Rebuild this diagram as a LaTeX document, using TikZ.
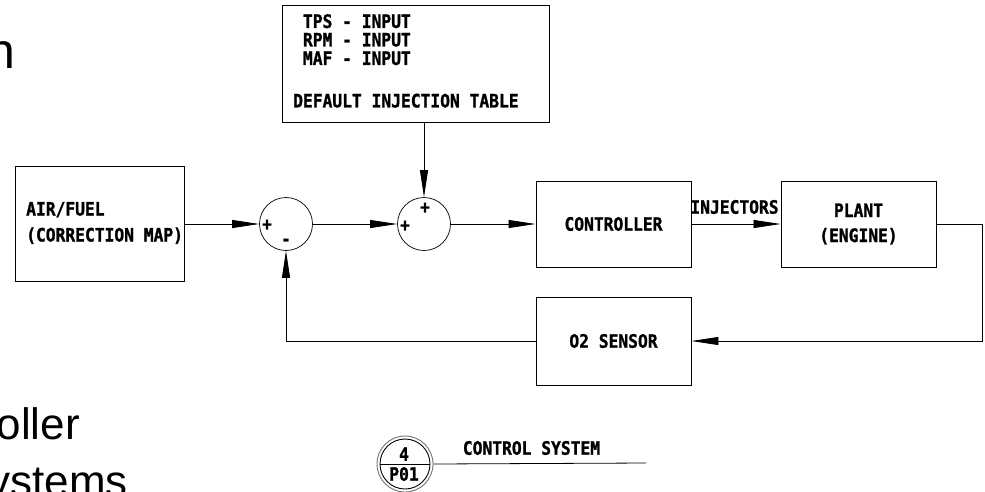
\documentclass[tikz,border=0pt]{standalone}
\usepackage{fontspec}
\setmainfont{Liberation Sans}
\newfontfamily\cadfont{DejaVu Sans Mono}[FakeStretch=0.88, BoldFeatures={FakeBold=1.2}]
\usetikzlibrary{arrows.meta}
\tikzset{
  blk/.style={draw, line width=0.9pt, inner sep=0pt},
  sumj/.style={circle, draw, line width=0.7pt, minimum size=53pt, inner sep=0pt},
  arr/.style={-{Triangle[length=27pt,width=8pt]}, line width=0.8pt},
  wire/.style={line width=0.8pt},
  lbl/.style={font=\cadfont\bfseries\fontsize{18.5}{18.5}\selectfont, inner sep=0pt},
  sgn/.style={font=\cadfont\bfseries\fontsize{18}{18}\selectfont, inner sep=0pt},
  slide/.style={font=\fontsize{44}{50}\selectfont, inner sep=0pt}
}
\begin{document}
\begin{tikzpicture}[x=1pt,y=-1pt]
\useasboundingbox (0,0) rectangle (985,491);
\begin{scope}
\clip (0,0) rectangle (985,491);
\fill[white] (0,0) rectangle (985,491);

% slide text fragments
\node[slide, font=\fontsize{50}{56}\selectfont, anchor=base east] (sn) at (15.5,68) {n};
\node[slide, anchor=base east] (so) at (80,439) {oller};
\node[slide, anchor=base east] (sy) at (128,496) {ystems};

% input box
\node[blk, minimum width=267pt, minimum height=117pt] (inp) at (415.5,63.5) {};
\node[lbl, anchor=north west, align=left] (inpt) at (293,14)
  {\hphantom{T}TPS - INPUT\\\hphantom{T}RPM - INPUT\\\hphantom{T}MAF - INPUT\\[24pt]DEFAULT INJECTION TABLE};

% air/fuel box
\node[blk, minimum width=169pt, minimum height=115pt] (af) at (99.5,224) {};
\node[lbl, anchor=west, align=left, font=\cadfont\bfseries\fontsize{18.5}{26}\selectfont] (aft) at (26,223)
  {AIR/FUEL\\(CORRECTION MAP)};

% summing junctions
\node[sumj] (s1) at (286,224) {};
\node[sumj] (s2) at (424,224) {};
\node[sgn] (s1p) at (267,225) {+};
\node[sgn] (s1m) at (286,242) {-};
\node[sgn] (s2p) at (405,226) {+};
\node[sgn] (s2t) at (425,208) {+};

% controller, plant, sensor
\node[blk, lbl, minimum width=155pt, minimum height=86pt] (ctrl) at (613.5,224) {CONTROLLER};
\node[blk, lbl, align=center, minimum width=155pt, minimum height=86pt,
      font=\cadfont\bfseries\fontsize{18.5}{25}\selectfont] (plant) at (858.5,224) {PLANT\\(ENGINE)};
\node[blk, lbl, minimum width=155pt, minimum height=88pt] (o2) at (613.5,341) {O2 SENSOR};
\node[lbl] (inj) at (734.5,207) {INJECTORS};

% connectors
\draw[arr] (af.east) -- (s1.west);
\draw[arr] (s1.east) -- (s2.west);
\draw[arr] (inp.south -| s2.north) -- (s2.north);
\draw[arr] (s2.east) -- (ctrl.west);
\draw[arr] (ctrl.east) -- (plant.west);
\coordinate (c1) at (982,224);
\draw[arr] (plant.east) -- (c1) |- (o2.east);
\draw[arr] (o2.west) -| (s1.south);

% reference symbol
\node[circle, draw=black!55, line width=0.9pt, minimum size=56pt, inner sep=0pt] (refo) at (405,464) {};
\node[circle, draw, line width=0.9pt, minimum size=50pt, inner sep=0pt] (refi) at (405,464) {};
\node[lbl] (r4) at (404,454) {4};
\node[lbl] (rp) at (404,474) {P01};
\coordinate (rend) at (646,463);
\draw[wire] (refi.west) -- (refi.east);
\draw[wire] (refo.east) -- (rend);
\node[lbl] (cs) at (531.5,448) {CONTROL SYSTEM};
\end{scope}
\end{tikzpicture}
\end{document}
